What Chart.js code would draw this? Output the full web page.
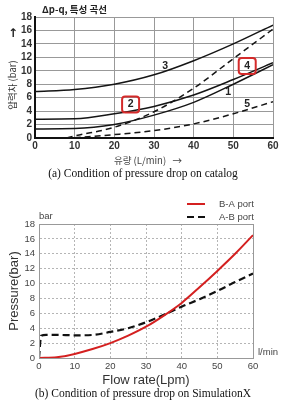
<!DOCTYPE html>
<html>
<head>
<meta charset="utf-8">
<script src="https://cdn.jsdelivr.net/npm/chart.js@4.4.0/dist/chart.umd.min.js"></script>
<style>
    body { margin: 0; background: #fff; width: 286px; height: 405px; position: relative; overflow: hidden; }
    .box { position: absolute; left: 0; width: 286px; }
    .cap { position: absolute; left: 0; width: 286px; text-align: center; font-family: "Liberation Serif", serif; font-size: 11.5px; color: #111; white-space: nowrap; }
</style>
</head>
<body>
<div class="box" style="top:0;height:168px"><canvas id="catalogChart"></canvas></div>
<div class="cap" style="top:167px">(a) Condition of pressure drop on catalog</div>
<div class="box" style="top:190px;height:200px"><canvas id="simChart"></canvas></div>
<div class="cap" style="top:387px">(b) Condition of pressure drop on SimulationX</div>

<script>
// (a) catalog curves, flow in L/min, pressure drop in bar
const flowCat = [0, 10, 20, 30, 40, 50, 60];
const curve1 = [1.35, 1.4, 2.0, 3.4, 5.3, 8.0, 10.9];
const curve2 = [2.8, 2.85, 3.6, 4.7, 6.4, 8.7, 11.2];
const curve3 = [6.9, 7.2, 8.0, 9.4, 11.5, 14.0, 16.8];
const flowCurve4 = [8, 10, 20, 30, 40, 50, 60];
const curve4 = [0, 0.3, 1.6, 3.9, 7.4, 11.8, 16.2];
const flowCurve5 = [10, 20, 30, 40, 50, 60];
const curve5 = [0.05, 0.5, 1.1, 2.1, 3.6, 5.4];

// (b) SimulationX results
const flowBA = [0, 5, 10, 15, 20, 25, 30, 35, 40, 45, 50, 55, 60];
const portBA = [0, 0.1, 0.55, 1.2, 2.0, 3.0, 4.2, 5.7, 7.4, 9.5, 11.7, 14.0, 16.5];
const flowAB = [0, 0.6, 2, 5, 10, 15, 20, 25, 30, 35, 40, 45, 50, 55, 60];
const portAB = [0, 3.0, 3.1, 3.1, 3.05, 3.1, 3.5, 4.0, 4.8, 5.8, 6.9, 7.9, 9.0, 10.2, 11.35];

const xTicks = [0, 10, 20, 30, 40, 50, 60];
const yTicks = [0, 2, 4, 6, 8, 10, 12, 14, 16, 18];

function toPoints(xs, ys) {
    return xs.map((x, i) => ({ x: x, y: ys[i] }));
}

// curve numbers on the catalog chart: [text, flow, bar, boxed]
const curveLabels = [
    ['3', 32.8, 10.7, false],
    ['1', 48.7, 6.9, false],
    ['5', 53.5, 5.1, false],
    ['2', 24.1, 5.0, true],
    ['4', 53.5, 10.7, true]
];

const catalogExtras = {
    id: 'catalogExtras',
    afterDraw(chart) {
        const ctx = chart.ctx;
        const { x, y } = chart.scales;
        ctx.save();
        ctx.fillStyle = '#222';
        ctx.textBaseline = 'middle';

        ctx.font = 'bold 9.5px "Noto Sans CJK KR"';
        ctx.textAlign = 'left';
        ctx.fillText('Δp-q, 특성 곡선', 42, 9);

        ctx.font = 'bold 12px "DejaVu Sans"';
        ctx.textAlign = 'center';
        ctx.fillText('↑', 13, 34);

        ctx.save();
        ctx.translate(12, 85);
        ctx.rotate(-Math.PI / 2);
        ctx.font = '9.5px "Noto Sans CJK KR"';
        ctx.fillStyle = '#333';
        ctx.fillText('압력차 (bar)', 0, 0);
        ctx.restore();

        ctx.font = '9.5px "Noto Sans CJK KR"';
        ctx.fillStyle = '#444';
        ctx.fillText('유량 (L/min)   →', 148, 160);

        ctx.font = 'bold 10.5px "Liberation Sans Narrow", "Liberation Sans"';
        ctx.fillStyle = '#222';
        curveLabels.forEach(([t, q, p, boxed]) => {
            const px = x.getPixelForValue(q);
            const py = y.getPixelForValue(p);
            ctx.fillText(t, px, py);
            if (boxed) {
                ctx.strokeStyle = '#d42a2a';
                ctx.lineWidth = 2;
                ctx.beginPath();
                ctx.roundRect(px - 8.5, py - 8, 17, 16, 3);
                ctx.stroke();
            }
        });
        ctx.restore();
    }
};

const simExtras = {
    id: 'simExtras',
    afterDraw(chart) {
        const ctx = chart.ctx;
        const area = chart.chartArea;
        ctx.save();
        ctx.strokeStyle = '#999';
        ctx.lineWidth = 1;
        ctx.strokeRect(area.left + 0.5, area.top + 0.5, area.right - area.left, area.bottom - area.top);

        ctx.fillStyle = '#444';
        ctx.textBaseline = 'middle';
        ctx.font = '9.5px "Liberation Sans"';
        ctx.textAlign = 'left';
        ctx.fillText('bar', 39, 26);
        ctx.fillText('l/min', 258, 162);

        // legend
        const ds = chart.data.datasets;
        const rows = [14, 27];
        ds.forEach((d, i) => {
            ctx.strokeStyle = d.borderColor;
            ctx.lineWidth = d.borderWidth;
            ctx.setLineDash(d.borderDash || []);
            ctx.beginPath();
            ctx.moveTo(187, rows[i]);
            ctx.lineTo(205, rows[i]);
            ctx.stroke();
            ctx.fillText(d.label, 219, rows[i]);
        });
        ctx.setLineDash([]);

        ctx.fillStyle = '#333';
        ctx.font = '13px "Liberation Sans"';
        ctx.textAlign = 'center';
        ctx.fillText('Flow rate(Lpm)', (area.left + area.right) / 2, 190);
        ctx.save();
        ctx.translate(14, (area.top + area.bottom) / 2);
        ctx.rotate(-Math.PI / 2);
        ctx.fillText('Pressure(bar)', 0, 0);
        ctx.restore();
        ctx.restore();
    }
};

function catalogLine(xs, ys, dashed) {
    return {
        data: toPoints(xs, ys),
        borderColor: '#151515',
        borderWidth: 1.5,
        borderDash: dashed ? [6, 4] : [],
        pointRadius: 0,
        cubicInterpolationMode: 'monotone',
        fill: false
    };
}

new Chart(document.getElementById('catalogChart'), {
    type: 'line',
    data: {
        datasets: [
            catalogLine(flowCat, curve1, false),
            catalogLine(flowCat, curve2, false),
            catalogLine(flowCat, curve3, false),
            catalogLine(flowCurve4, curve4, true),
            catalogLine(flowCurve5, curve5, true)
        ]
    },
    options: {
        responsive: true,
        maintainAspectRatio: false,
        animation: false,
        layout: { padding: { top: 17, right: 13, left: 0, bottom: 0 } },
        plugins: { legend: { display: false }, tooltip: { enabled: false } },
        scales: {
            x: {
                type: 'linear', min: 0, max: 60,
                afterBuildTicks: s => { s.ticks = xTicks.map(v => ({ value: v })); },
                afterFit: s => { s.height = 30; },
                ticks: { autoSkip: false, color: '#333', padding: 2, maxRotation: 0, font: { family: '"Liberation Sans Narrow", "Liberation Sans"', size: 10, weight: 'bold' } },
                grid: { color: '#999', lineWidth: 1, drawTicks: false },
                border: { color: '#111', width: 2 }
            },
            y: {
                min: 0, max: 18,
                afterBuildTicks: s => { s.ticks = yTicks.map(v => ({ value: v })); },
                afterFit: s => { s.width = 35; },
                ticks: { autoSkip: false, color: '#333', padding: 3, font: { family: '"Liberation Sans Narrow", "Liberation Sans"', size: 10, weight: 'bold' } },
                grid: { color: '#999', lineWidth: 1, drawTicks: false },
                border: { color: '#111', width: 2 }
            }
        }
    },
    plugins: [catalogExtras]
});

new Chart(document.getElementById('simChart'), {
    type: 'line',
    data: {
        datasets: [
            {
                label: 'B-A port',
                data: toPoints(flowBA, portBA),
                borderColor: '#d42020',
                borderWidth: 2,
                pointRadius: 0,
                cubicInterpolationMode: 'monotone'
            },
            {
                label: 'A-B port',
                data: toPoints(flowAB, portAB),
                borderColor: '#111',
                borderWidth: 2.2,
                borderDash: [7, 4],
                pointRadius: 0,
                cubicInterpolationMode: 'monotone'
            }
        ]
    },
    options: {
        responsive: true,
        maintainAspectRatio: false,
        animation: false,
        layout: { padding: { top: 34, right: 33, left: 0, bottom: 0 } },
        plugins: { legend: { display: false }, tooltip: { enabled: false } },
        scales: {
            x: {
                type: 'linear', min: 0, max: 60,
                afterBuildTicks: s => { s.ticks = xTicks.map(v => ({ value: v })); },
                afterFit: s => { s.height = 32; },
                ticks: { autoSkip: false, color: '#444', padding: 3, maxRotation: 0, font: { family: '"Liberation Sans"', size: 9.5 } },
                grid: { color: '#b5b5b5', lineWidth: 1, drawTicks: false },
                border: { color: '#888', width: 1, dash: [2, 2] }
            },
            y: {
                min: 0, max: 18,
                afterBuildTicks: s => { s.ticks = yTicks.map(v => ({ value: v })); },
                afterFit: s => { s.width = 39; },
                ticks: { autoSkip: false, color: '#444', padding: 4, font: { family: '"Liberation Sans"', size: 9.5 } },
                grid: { color: '#b5b5b5', lineWidth: 1, drawTicks: false },
                border: { color: '#888', width: 1, dash: [2, 2] }
            }
        }
    },
    plugins: [simExtras]
});
</script>
</body>
</html>
